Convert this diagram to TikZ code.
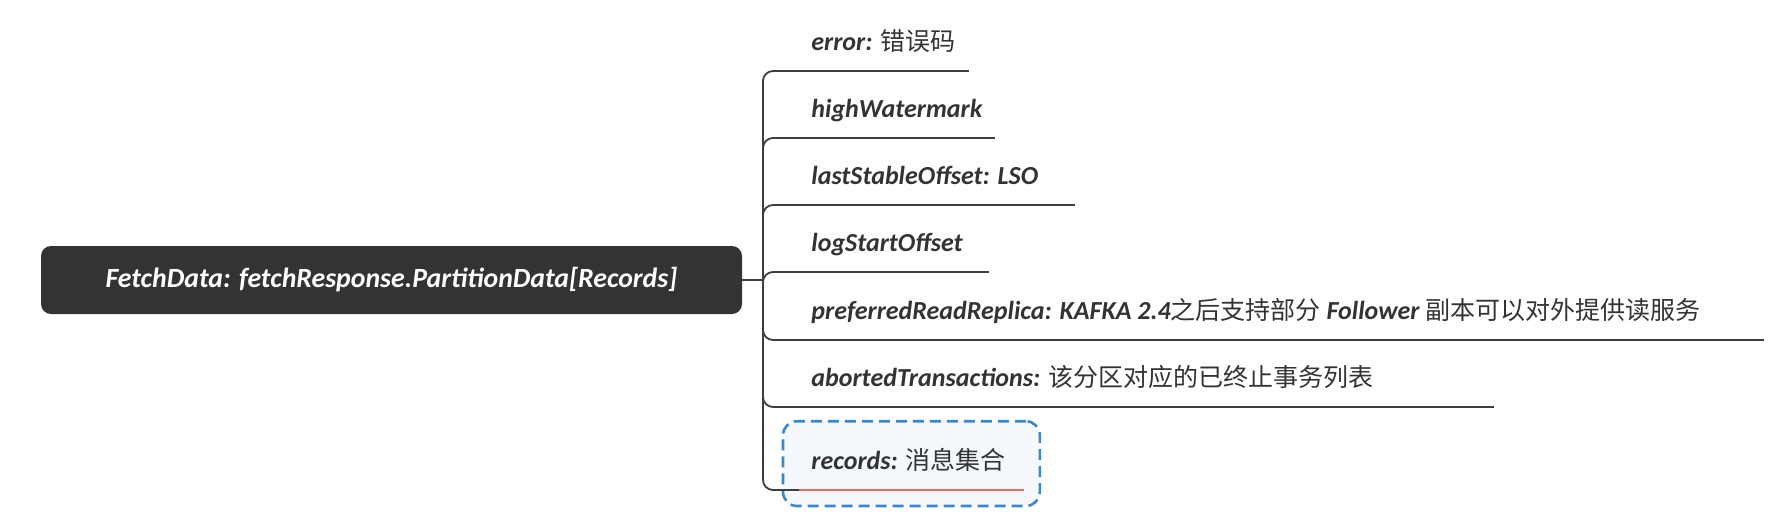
\documentclass[tikz,border=0pt]{standalone}
\usepackage{fontspec}
\setmainfont{Carlito}
\newfontfamily\cjkfont{Noto Sans CJK SC}
\usetikzlibrary{fit, backgrounds}
\definecolor{rootgray}{HTML}{333333}
\definecolor{txtgray}{HTML}{333333}
\definecolor{lngray}{HTML}{3E3E3E}
\definecolor{selblue}{HTML}{3A86CF}
\definecolor{selfill}{HTML}{F5F9FE}
\definecolor{ulred}{HTML}{EF6B61}
\newcommand{\zh}[1]{{\cjkfont\mdseries\upshape\fontsize{12.5pt}{15pt}\selectfont #1}}
\tikzset{
  root/.style={rectangle, fill=rootgray, rounded corners=5pt, text=white, minimum width=350.5pt, minimum height=34pt, inner sep=0pt, font=\fontsize{13.9pt}{16pt}\selectfont\bfseries\itshape},
  leaf/.style={anchor=south west, inner xsep=6pt, inner ysep=7pt, text height=9pt, text depth=3pt, text=txtgray, font=\fontsize{13pt}{15pt}\selectfont\bfseries\itshape,
    execute at begin node={\hbox to #1\bgroup}, execute at end node={\hfil\egroup}},
  brn/.style={draw=lngray, line width=0.9pt, rounded corners=5pt},
  uln/.style={draw=lngray, line width=0.9pt},
  sel/.style={draw=selblue, fill=selfill, line width=1.3pt, rounded corners=7pt, dash pattern=on 5.5pt off 3pt, inner sep=8pt}
}

\begin{document}
\begin{tikzpicture}[x=0.5pt, y=-0.5pt]
		\useasboundingbox (0,0) rectangle (1772,524);
		\node[root] (fd) at (391.5,280) {FetchData: fetchResponse.PartitionData[Records]};
		\coordinate (trunk) at (763,280);
		% fields of PartitionData
		\node[leaf=72.5pt] (err) at (799,71) {error: \zh{错误码}};
		\node[leaf=85.5pt] (hw) at (799,138) {highWatermark};
		\node[leaf=125.5pt] (lso) at (799,205) {lastStableOffset: LSO};
		\node[leaf=82.5pt] (lss) at (799,272) {logStartOffset};
		\node[leaf=470pt] (prr) at (799,340) {preferredReadReplica: KAFKA 2.4\zh{之后支持部分} Follower \zh{副本可以对外提供读服务}};
		\node[leaf=335pt] (abt) at (799,407) {abortedTransactions: \zh{该分区对应的已终止事务列表}};
		\node[leaf=100pt] (rec) at (799,490) {records: \zh{消息集合}};
		\begin{scope}[on background layer]
			\node[sel, fit=(rec)] (recsel) {};
		\end{scope}
		\draw[uln] (fd.east) -- (trunk);
		\foreach \c in {err, hw, lso, lss, prr, abt, rec}
			\draw[brn] (trunk) |- (\c.south west);
		\foreach \c in {err, hw, lso, lss, prr, abt}
			\draw[uln] (\c.south west) -- (\c.south east);
		\draw[draw=ulred, line width=0.9pt] (rec.south west) -- (rec.south east);
	\end{tikzpicture}
\end{document}
